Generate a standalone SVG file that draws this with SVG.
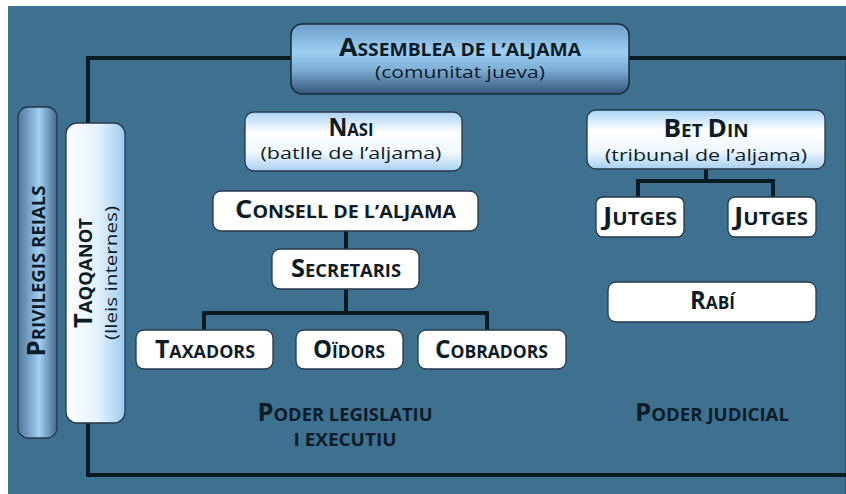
<svg xmlns="http://www.w3.org/2000/svg" width="846" height="494" viewBox="0 0 846 494">
<defs>
<linearGradient id="gAss" x1="0" y1="0" x2="0" y2="1">
<stop offset="0" stop-color="#6e9ec8"/><stop offset="0.4" stop-color="#9dcff3"/><stop offset="0.65" stop-color="#7eaed6"/><stop offset="1" stop-color="#34557a"/>
</linearGradient>
<linearGradient id="gHead" x1="0" y1="0" x2="0" y2="1">
<stop offset="0" stop-color="#a9d3f3"/><stop offset="0.35" stop-color="#ffffff"/><stop offset="0.7" stop-color="#eef7fe"/><stop offset="1" stop-color="#a7cff0"/>
</linearGradient>
<linearGradient id="gPriv" x1="0" y1="0" x2="1" y2="0">
<stop offset="0" stop-color="#4f7599"/><stop offset="0.55" stop-color="#a0d0f3"/><stop offset="1" stop-color="#46688a"/>
</linearGradient>
<linearGradient id="gTaq" x1="0" y1="0" x2="1" y2="0">
<stop offset="0" stop-color="#ffffff"/><stop offset="0.55" stop-color="#e3f2fd"/><stop offset="1" stop-color="#9ccaee"/>
</linearGradient>
</defs>
<style>
.box{fill:#ffffff;stroke:#26384a;stroke-width:1.3}
.t{font-family:"Open Sans","DejaVu Sans",sans-serif;font-weight:700;fill:#0e1c28;font-size:18px}
.t .c{font-size:25px}
.s{font-family:"Open Sans","DejaVu Sans",sans-serif;font-weight:400;fill:#0e1c28;font-size:17px}
.ln{fill:none;stroke:#081a24;stroke-width:4}
</style>
<rect x="0" y="0" width="846" height="494" fill="#ffffff"/>
<rect x="8" y="6" width="838" height="488" fill="#3e7090"/>
<line x1="845.5" y1="60" x2="845.5" y2="494" stroke="#2c5670" stroke-width="1"/>

<g id="connectors">
<path class="ln" d="M 292 58 H 88 V 475 H 846"/>
<path class="ln" d="M 629 58 H 846"/>
<path class="ln" d="M 346 231 V 249"/>
<path class="ln" d="M 346 289 V 313"/>
<path class="ln" d="M 204 331 V 313 H 487 V 331"/>
<path class="ln" d="M 706 169 V 181"/>
<path class="ln" d="M 638 198 V 181 H 773 V 198"/>
</g>

<g id="privilegis">
<rect x="18" y="107" width="39" height="331" rx="10" fill="url(#gPriv)" stroke="#26384a" stroke-width="1.3"/>
<text class="t" transform="translate(45,271) rotate(-90)" text-anchor="middle" textLength="171" lengthAdjust="spacingAndGlyphs"><tspan class="c">P</tspan>RIVILEGIS REIALS</text>
</g>

<g id="taqqanot">
<rect x="66" y="123" width="59" height="300" rx="11" fill="url(#gTaq)" stroke="#26384a" stroke-width="1.3"/>
<text class="t" transform="translate(92,273) rotate(-90)" text-anchor="middle" textLength="110" lengthAdjust="spacingAndGlyphs"><tspan class="c">T</tspan>AQQANOT</text>
<text class="s" transform="translate(117,273) rotate(-90)" text-anchor="middle" textLength="134" lengthAdjust="spacingAndGlyphs">(lleis internes)</text>
</g>

<g id="assemblea">
<rect x="291" y="24" width="338" height="70" rx="11" fill="url(#gAss)" stroke="#1b2a38" stroke-width="1.5"/>
<text class="t" x="460" y="56" text-anchor="middle" textLength="242" lengthAdjust="spacingAndGlyphs"><tspan class="c">A</tspan>SSEMBLEA DE L’ALJAMA</text>
<text class="s" x="460" y="78" text-anchor="middle" textLength="170" lengthAdjust="spacingAndGlyphs">(comunitat jueva)</text>
</g>

<g id="nasi">
<rect x="245" y="112" width="217" height="59" rx="9" fill="url(#gHead)" stroke="#26384a" stroke-width="1.3"/>
<text class="t" x="351" y="136" text-anchor="middle" textLength="45" lengthAdjust="spacingAndGlyphs"><tspan class="c">N</tspan>ASI</text>
<text class="s" x="351" y="159" text-anchor="middle" textLength="181" lengthAdjust="spacingAndGlyphs">(batlle de l’aljama)</text>
</g>

<g id="consell">
<rect class="box" x="213" y="191" width="265" height="40" rx="8"/>
<text class="t" x="345.5" y="218" text-anchor="middle" textLength="221" lengthAdjust="spacingAndGlyphs"><tspan class="c">C</tspan>ONSELL DE L’ALJAMA</text>
</g>

<g id="secretaris">
<rect class="box" x="272" y="249" width="147" height="40" rx="8"/>
<text class="t" x="346" y="277" text-anchor="middle" textLength="110" lengthAdjust="spacingAndGlyphs"><tspan class="c">S</tspan>ECRETARIS</text>
</g>

<g id="taxadors">
<rect class="box" x="136" y="330" width="137" height="39" rx="8"/>
<text class="t" x="205" y="358" text-anchor="middle" textLength="100" lengthAdjust="spacingAndGlyphs"><tspan class="c">T</tspan>AXADORS</text>
</g>

<g id="oidors">
<rect class="box" x="296" y="330" width="107" height="39" rx="8"/>
<text class="t" x="349" y="358" text-anchor="middle" textLength="72" lengthAdjust="spacingAndGlyphs"><tspan class="c">O</tspan>ÏDORS</text>
</g>

<g id="cobradors">
<rect class="box" x="418" y="330" width="148" height="39" rx="8"/>
<text class="t" x="491.5" y="358" text-anchor="middle" textLength="113" lengthAdjust="spacingAndGlyphs"><tspan class="c">C</tspan>OBRADORS</text>
</g>

<g id="poder-legislatiu">
<text class="t" x="345" y="421" text-anchor="middle" textLength="175" lengthAdjust="spacingAndGlyphs"><tspan class="c">P</tspan>ODER LEGISLATIU</text>
<text class="t" x="345" y="446" text-anchor="middle" textLength="103" lengthAdjust="spacingAndGlyphs">I EXECUTIU</text>
</g>

<g id="betdin">
<rect x="587" y="110" width="238" height="59" rx="9" fill="url(#gHead)" stroke="#26384a" stroke-width="1.3"/>
<text class="t" x="706" y="137" text-anchor="middle" textLength="85" lengthAdjust="spacingAndGlyphs"><tspan class="c">B</tspan>ET <tspan class="c">D</tspan>IN</text>
<text class="s" x="706" y="161" text-anchor="middle" textLength="202" lengthAdjust="spacingAndGlyphs">(tribunal de l’aljama)</text>
</g>

<g id="jutges1">
<rect class="box" x="596" y="197" width="88" height="40" rx="7"/>
<text class="t" x="640" y="225" text-anchor="middle" textLength="74" lengthAdjust="spacingAndGlyphs"><tspan class="c">J</tspan>UTGES</text>
</g>

<g id="jutges2">
<rect class="box" x="728" y="197" width="88" height="40" rx="7"/>
<text class="t" x="771" y="225" text-anchor="middle" textLength="74" lengthAdjust="spacingAndGlyphs"><tspan class="c">J</tspan>UTGES</text>
</g>

<g id="rabi">
<rect class="box" x="608" y="282" width="208" height="40" rx="8"/>
<text class="t" x="712.5" y="309" text-anchor="middle" textLength="45" lengthAdjust="spacingAndGlyphs"><tspan class="c">R</tspan>ABÍ</text>
</g>

<g id="poder-judicial">
<text class="t" x="712" y="421" text-anchor="middle" textLength="154" lengthAdjust="spacingAndGlyphs"><tspan class="c">P</tspan>ODER JUDICIAL</text>
</g>
</svg>
